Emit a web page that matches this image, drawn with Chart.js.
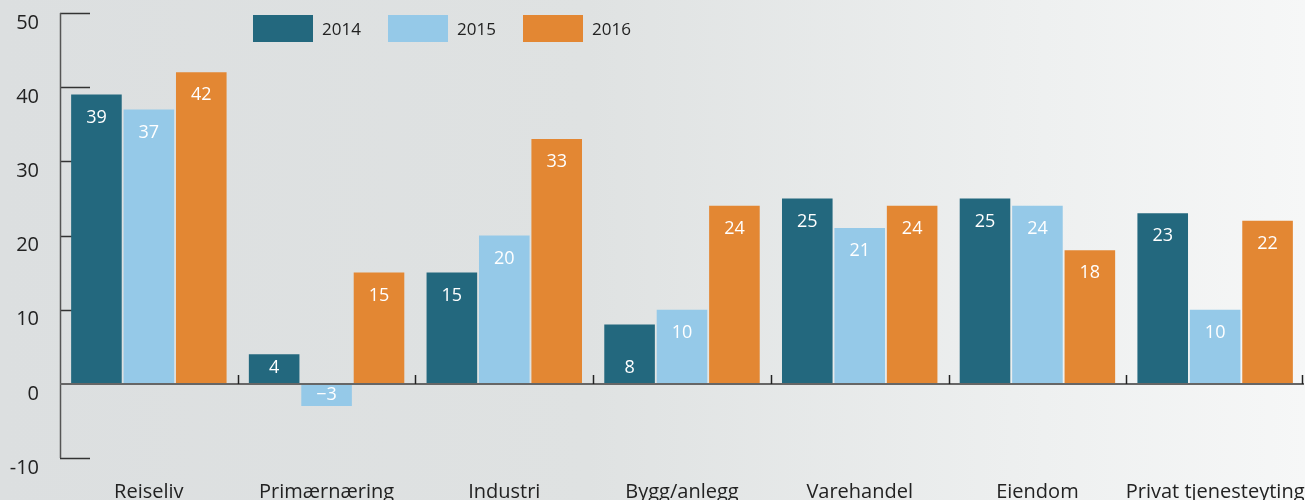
<!DOCTYPE html>
<html>
<head>
<meta charset="utf-8">
<script src="https://cdn.jsdelivr.net/npm/chart.js@4.4.1/dist/chart.umd.min.js"></script>
<style>
  html, body { margin: 0; padding: 0; }
  body { width: 1305px; height: 500px; overflow: hidden; font-family: "Open Sans", sans-serif; }
  #wrap {
    position: relative; width: 1305px; height: 500px;
    background: linear-gradient(to right, #dcdfe0 0%, #dfe2e2 45%, #eef0f0 80%, #f6f7f7 100%);
  }
  #legend { position: absolute; left: 253px; top: 15px; display: flex; }
  .item { display: flex; align-items: center; width: 135px; font-size: 17px; color: #222; }
  .box { width: 60px; height: 27px; margin-right: 9px; }
</style>
</head>
<body>
<div id="wrap">
  <canvas id="grafico" width="1305" height="500"></canvas>
  <div id="legend"></div>
</div>
<script>
// Kategorier og verdier lest av figuren
var kategorier = ['Reiseliv', 'Primærnæring', 'Industri', 'Bygg/anlegg', 'Varehandel', 'Eiendom', 'Privat tjenesteyting'];
var serieNavn = ['2014', '2015', '2016'];
var verdier2014 = [39, 4, 15, 8, 25, 25, 23];
var verdier2015 = [37, -3, 20, 10, 21, 24, 10];
var verdier2016 = [42, 15, 33, 24, 24, 18, 22];
var yTicks = [-10, 0, 10, 20, 30, 40, 50];

var farger = ['#23687e', '#95c9e8', '#e38733'];
var serier = [verdier2014, verdier2015, verdier2016];

// egen legende
var legend = document.getElementById('legend');
serieNavn.forEach(function (navn, i) {
    var el = document.createElement('div');
    el.className = 'item';
    el.innerHTML = '<div class="box" style="background:' + farger[i] + '"></div><span>' + navn + '</span>';
    legend.appendChild(el);
});

// akselinjer, tikkmerker og nullinje
var akser = {
    id: 'akser',
    beforeDatasetsDraw: function (chart) {
        var c = chart.ctx, y = chart.scales.y, a = chart.chartArea;
        c.save();
        c.strokeStyle = '#333';
        c.lineWidth = 1.5;
        yTicks.forEach(function (t) {
            if (t === 0) return;
            var py = Math.round(y.getPixelForValue(t)) + 0.5;
            c.beginPath(); c.moveTo(a.left, py); c.lineTo(a.left + 30, py); c.stroke();
        });
        c.strokeStyle = '#555';
        c.beginPath();
        c.moveTo(a.left + 0.5, y.getPixelForValue(50));
        c.lineTo(a.left + 0.5, y.getPixelForValue(-10));
        c.stroke();
        c.restore();
    },
    afterDatasetsDraw: function (chart) {
        var c = chart.ctx, y = chart.scales.y, x = chart.scales.x, a = chart.chartArea;
        var y0 = Math.round(y.getPixelForValue(0));
        c.save();
        c.strokeStyle = '#666';
        c.lineWidth = 2;
        c.beginPath(); c.moveTo(a.left, y0); c.lineTo(a.right, y0); c.stroke();
        c.strokeStyle = '#222';
        c.lineWidth = 1.5;
        for (var i = 1; i <= kategorier.length; i++) {
            var px = i < kategorier.length
                ? (x.getPixelForValue(i - 1) + x.getPixelForValue(i)) / 2
                : a.right - 2;
            px = Math.round(px) + 0.5;
            c.beginPath(); c.moveTo(px, y0); c.lineTo(px, y0 - 9); c.stroke();
        }
        // verdietiketter
        c.fillStyle = '#fff';
        c.font = '18px "Open Sans", sans-serif';
        c.textAlign = 'center';
        c.textBaseline = 'middle';
        chart.data.datasets.forEach(function (ds, di) {
            chart.getDatasetMeta(di).data.forEach(function (bar, i) {
                var v = ds.data[i];
                var ty;
                if (v < 0) ty = (bar.y + bar.base) / 2;
                else if (v < 10) ty = bar.base - 16;
                else ty = bar.y + 23;
                var txt = v < 0 ? '\u2212' + Math.abs(v) : String(v);
                c.fillText(txt, bar.x, ty);
            });
        });
        c.restore();
    }
};

var ctx = document.getElementById('grafico').getContext('2d');
var grafico = new Chart(ctx, {
    type: 'bar',
    data: {
        labels: kategorier,
        datasets: serier.map(function (d, i) {
            return {
                label: serieNavn[i],
                data: d,
                backgroundColor: farger[i],
                borderWidth: 0,
                categoryPercentage: 0.885,
                barPercentage: 0.965
            };
        })
    },
    options: {
        responsive: false,
        animation: false,
        layout: { padding: { top: 13, right: 1, left: 0, bottom: 0 } },
        plugins: { legend: { display: false }, tooltip: { enabled: false } },
        scales: {
            x: {
                grid: { display: false },
                border: { display: false },
                ticks: {
                    color: '#222',
                    font: { family: 'Open Sans', size: 20 },
                    maxRotation: 0,
                    autoSkip: false,
                    padding: 14
                },
                afterFit: function (s) { s.height = 42; s.paddingLeft = 0; s.paddingRight = 0; }
            },
            y: {
                min: -10,
                max: 50,
                afterBuildTicks: function (s) { s.ticks = yTicks.map(function (v) { return { value: v }; }); },
                grid: { display: false, drawTicks: false },
                border: { display: false },
                ticks: {
                    color: '#222',
                    font: { family: 'Open Sans', size: 20 },
                    padding: 21,
                    labelOffset: 10
                },
                afterFit: function (s) { s.width = 60; s.paddingTop = 0; s.paddingBottom = 0; }
            }
        }
    },
    plugins: [akser]
});
</script>
</body>
</html>
